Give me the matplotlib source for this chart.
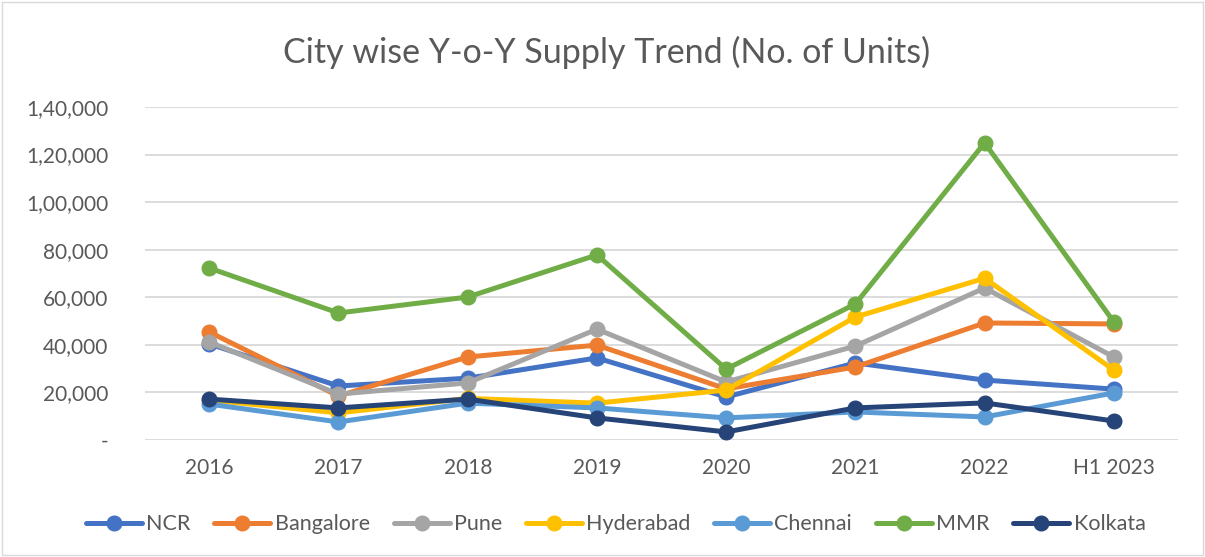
import matplotlib.pyplot as plt
from matplotlib.patches import Rectangle
from matplotlib.ticker import FuncFormatter

plt.rcParams['font.family'] = ['Lato', 'DejaVu Sans']

years = ["2016", "2017", "2018", "2019", "2020", "2021", "2022", "H1 2023"]

ncr = [40400, 22700, 26000, 34500, 18100, 32400, 25200, 21400]
bangalore = [45400, 18500, 34900, 39900, 21500, 30700, 49200, 48800]
pune = [41200, 19300, 24000, 46600, 24400, 39500, 63900, 34900]
hyderabad = [16800, 11400, 17500, 15500, 21000, 51700, 68000, 29400]
chennai = [15100, 7600, 15500, 13500, 9300, 11800, 9700, 19800]
mmr = [72300, 53400, 60100, 77800, 29800, 57200, 124900, 49600]
kolkata = [17200, 13500, 17200, 9300, 3400, 13500, 15600, 8000]

series = [
    ("NCR", ncr, "#4472C4"),
    ("Bangalore", bangalore, "#ED7D31"),
    ("Pune", pune, "#A5A5A5"),
    ("Hyderabad", hyderabad, "#FFC000"),
    ("Chennai", chennai, "#5B9BD5"),
    ("MMR", mmr, "#70AD47"),
    ("Kolkata", kolkata, "#264478"),
]

# indian style grouping: 1,40,000
def indian_fmt(v, pos):
    v = int(round(v))
    if v == 0:
        return "-"
    s = str(v)
    last3 = s[-3:]
    rest = s[:-3]
    parts = []
    while len(rest) > 2:
        parts.insert(0, rest[-2:])
        rest = rest[:-2]
    if rest:
        parts.insert(0, rest)
    return ",".join(parts + [last3])

fig = plt.figure(figsize=(12.05, 5.57), dpi=100)
ax = fig.add_axes([0.120, 0.210, 0.858, 0.598])

x = list(range(len(years)))
for name, vals, col in series:
    ax.plot(x, vals, color=col, lw=3.6, marker="o", markersize=10.5,
            label=name, solid_capstyle="round")

ax.set_ylim(0, 140000)
ax.set_xlim(-0.5, len(years) - 0.5)
ax.set_yticks(range(0, 140001, 20000))
ax.yaxis.set_major_formatter(FuncFormatter(indian_fmt))
ax.set_xticks(x)
ax.set_xticklabels(years)
ax.grid(axis="y", color="#D9D9D9", lw=1.3)
ax.set_axisbelow(True)
for sp in ax.spines.values():
    sp.set_visible(False)
ax.tick_params(length=0, labelsize=15, labelcolor="#595959")
ax.tick_params(axis="y", pad=26)
ax.tick_params(axis="x", pad=13)

fig.text(0.503, 0.905, "City wise Y-o-Y Supply Trend (No. of Units)",
         ha="center", va="center", fontsize=24.5, color="#595959")

ax.legend(loc="center", bbox_to_anchor=(0.511, 0.059), bbox_transform=fig.transFigure,
          ncol=7, frameon=False, fontsize=15.5, handlelength=2.6,
          columnspacing=1.1, handletextpad=0.2, labelcolor="#595959")

fig.patches.append(Rectangle((0.002, 0.003), 0.996, 0.994, transform=fig.transFigure,
                             fill=False, edgecolor="#D9D9D9", lw=1))

fig.savefig("out.png", dpi=100)
